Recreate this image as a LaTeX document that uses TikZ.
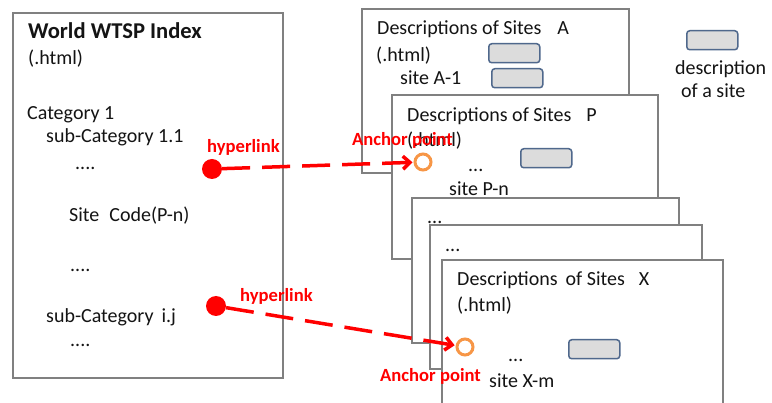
\documentclass[tikz,border=0pt]{standalone}
\usepackage{fontspec}
\setmainfont{Carlito}
\usetikzlibrary{arrows.meta}
\definecolor{boxgray}{RGB}{128,128,128}
\definecolor{sitefill}{RGB}{220,220,220}
\definecolor{siteline}{RGB}{79,104,140}
\definecolor{anchororange}{RGB}{247,150,70}
\definecolor{linkred}{RGB}{255,0,0}
\definecolor{txtcol}{RGB}{20,20,20}
\begin{document}
\begin{tikzpicture}[x=1pt,y=-1pt,
 pagebox/.style={draw=boxgray, line width=2pt, fill=white, anchor=north west, inner sep=0pt, outer sep=0pt},
 sitebox/.style={draw=siteline, fill=sitefill, line width=1.5pt, rounded corners=3pt, anchor=north west, inner sep=0pt, minimum width=51pt, minimum height=19pt},
 txt/.style={anchor=base west, inner sep=0pt, font=\fontsize{20}{24}\selectfont, text=txtcol},
 ttl/.style={txt, font=\fontsize{22.6}{27}\selectfont\bfseries},
 redlbl/.style={anchor=base west, inner sep=0pt, font=\fontsize{18.6}{22}\selectfont\bfseries, text=linkred},
 linkdot/.style={circle, fill=linkred, minimum size=20pt, inner sep=0pt},
 anchorpt/.style={circle, draw=anchororange, line width=3pt, minimum size=16pt, inner sep=0pt, fill=white},
 linkarrow/.style={draw=linkred, line width=3.5pt, dash pattern=on 28pt off 12pt, -{Straight Barb[length=7pt,width=13pt]}, shorten >=1pt}
]
\useasboundingbox (0,0) rectangle (772,403);
\clip (0,0) rectangle (772,403);
\fill[white] (0,0) rectangle (772,403);

% index page
\node[pagebox, line width=2.5pt, minimum width=270pt, minimum height=365pt] (index) at (13,13) {};
\node[ttl] (ttitle) at (28,39) {World WTSP Index};
\node[txt] (thtml) at (28,65) {(.html)};
\node[txt] (tcat) at (27,120) {Category 1};
\node[txt] (tsub1) at (46,143) {sub-Category 1.1};
\node[txt] (tdots1) at (75,170) {....};
\node[txt] (tsite) at (69,222) {Site\hspace{10pt}Code(P-n)};
\node[txt] (tdots2) at (70,272) {....};
\node[txt] (tsub2) at (46,323) {sub-Category\hspace{8pt}i.j};
\node[txt] (tdots3) at (70,347) {....};

% site pages
\node[pagebox, minimum width=267pt, minimum height=164pt] (boxA) at (362,9) {};
\node[txt] (aT) at (377,35) {Descriptions of Sites\hspace{16pt}A};
\node[txt] (aH) at (376,62) {(.html)};
\node[txt] (aS) at (400,85) {site A-1};
\node[sitebox] (aB1) at (488,43) {};
\node[sitebox] (aB2) at (491,68) {};

\node[pagebox, minimum width=266pt, minimum height=164pt] (boxP) at (392,95) {};
\node[txt] (pT) at (407,122) {Descriptions of Sites\hspace{15pt}P};
\node[txt] (pH) at (407,147) {(.html)};
\node[txt] (pD) at (468,172) {...};
\node[txt] (pS) at (449,196) {site P-n};
\node[sitebox] (pB) at (520,148) {};

\node[pagebox, minimum width=267pt, minimum height=145pt] (box3) at (412,198) {};
\node[txt] (d3) at (427,224) {...};

\node[pagebox, minimum width=272pt, minimum height=144pt] (box4) at (430,225) {};
\node[txt] (d4) at (445,252) {...};

\node[pagebox, minimum width=281pt, minimum height=170pt] (boxX) at (442,260) {};
\node[txt] (xT) at (457,286) {Descriptions\hspace{8pt}of Sites\hspace{14pt}X};
\node[txt] (xH) at (457,312) {(.html)};
\node[txt] (xD) at (508,362) {...};
\node[txt] (xS) at (489,388) {site X-m};
\node[sitebox] (xB) at (568,339) {};

% legend
\node[sitebox] (legB) at (686,30) {};
\node[txt] (leg1) at (675,75) {description};
\node[txt] (leg2) at (681,98) {of a site};

% hyperlinks
\node[linkdot] (dot1) at (212,169) {};
\node[linkdot] (dot2) at (216,306) {};
\node[anchorpt] (anc1) at (423,162) {};
\node[anchorpt] (anc2) at (465,347) {};
\draw[linkarrow] (dot1) -- (anc1);
\draw[linkarrow] (dot2) -- (anc2);
\node[redlbl] (hl1) at (207,153) {hyperlink};
\node[redlbl] (hl2) at (240,302) {hyperlink};
\node[redlbl] (al1) at (352,146) {Anchor point};
\node[redlbl] (al2) at (380,382) {Anchor point};
\end{tikzpicture}
\end{document}
